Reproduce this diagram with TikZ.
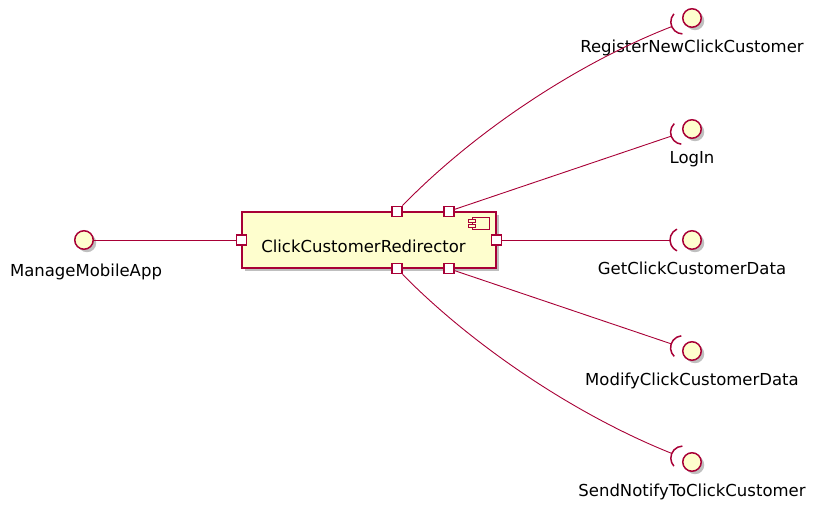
\documentclass[tikz,border=0pt]{standalone}
\usepackage{fontspec}
\setmainfont{DejaVu Sans}
\usetikzlibrary{shapes,positioning,calc,shadows}
\definecolor{umlfill}{HTML}{FEFECE}
\definecolor{umlline}{HTML}{A80036}
\begin{document}
\begin{tikzpicture}[x=1pt,y=1pt]
    % Define Styles
        \tikzstyle{component} = [
            rectangle,
            draw = umlline,
            fill = umlfill,
            line width = 1.5pt,
            minimum width = 254pt,
            minimum height = 56pt,
            inner sep = 0pt,
            drop shadow = {shadow xshift=3pt, shadow yshift=-3pt, opacity=0.25, fill=black}
        ]
        \tikzstyle{port} = [
            rectangle,
            draw = umlline,
            fill = white,
            line width = 1.2pt,
            minimum size = 10pt,
            inner sep = 0pt
        ]
        \tikzstyle{iface} = [
            circle,
            draw = umlline,
            fill = umlfill,
            line width = 1.5pt,
            minimum size = 18.5pt,
            inner sep = 0pt,
            drop shadow = {shadow xshift=3pt, shadow yshift=-3pt, opacity=0.25, fill=black}
        ]
        \tikzstyle{caption} = [
            inner sep = 0pt,
            anchor = base,
            font = \fontsize{16.5}{20}\selectfont
        ]
        \tikzstyle{conn} = [
            draw = umlline,
            line width = 0.9pt
        ]
        \tikzstyle{socket} = [
            draw = umlline,
            line width = 1.5pt
        ]
        \tikzstyle{icon} = [
            draw = umlline,
            fill = umlfill,
            line width = 1pt
        ]
    \useasboundingbox (0,0) rectangle (814,508);
    % Place nodes
        \node [component] (comp) at (369,268) {};
        \node [caption] (compname) at ([xshift=-5.5pt, yshift=-13pt]comp.center) {ClickCustomerRedirector};
        \draw [icon] ([xshift=-24pt, yshift=-6pt]comp.north east) rectangle ([xshift=-7pt, yshift=-18pt]comp.north east);
        \draw [icon] ([xshift=-28pt, yshift=-8.5pt]comp.north east) rectangle ([xshift=-21pt, yshift=-11.5pt]comp.north east);
        \draw [icon] ([xshift=-28pt, yshift=-13pt]comp.north east) rectangle ([xshift=-21pt, yshift=-16pt]comp.north east);
        \node [port] (pL) at (comp.west) {};
        \node [port] (pR) at (comp.east) {};
        \node [port] (pT1) at ([xshift=28pt]comp.north) {};
        \node [port] (pT2) at ([xshift=80pt]comp.north) {};
        \node [port] (pB1) at ([xshift=28pt]comp.south) {};
        \node [port] (pB2) at ([xshift=80pt]comp.south) {};
        \node [iface] (mma) at (84,268) {};
        \node [caption] (mmaname) at ([xshift=2pt, yshift=-37pt]mma.center) {ManageMobileApp};
        \node [iface] (reg) at (692,490) {};
        \node [caption] (regname) at ([yshift=-35pt]reg.center) {RegisterNewClickCustomer};
        \node [iface] (log) at (692,379) {};
        \node [caption] (logname) at ([yshift=-35pt]log.center) {LogIn};
        \node [iface] (gcd) at (692,268) {};
        \node [caption] (gcdname) at ([yshift=-35pt]gcd.center) {GetClickCustomerData};
        \node [iface] (mcd) at (692,157) {};
        \node [caption] (mcdname) at ([yshift=-35pt]mcd.center) {ModifyClickCustomerData};
        \node [iface] (snd) at (692,46) {};
        \node [caption] (sndname) at ([yshift=-35pt]snd.center) {SendNotifyToClickCustomer};
    % Sockets
        \coordinate (sreg) at ($(reg.center)+(203:22)$);
        \coordinate (slog) at ($(log.center)+(199:22)$);
        \coordinate (sgcd) at ($(gcd.center)+(180:22)$);
        \coordinate (smcd) at ($(mcd.center)+(161:22)$);
        \coordinate (ssnd) at ($(snd.center)+(157:22)$);
        \draw [socket] ($(reg.center)+(203:10)+(203-65:12)$) arc [start angle=203-65, end angle=203+65, radius=12];
        \draw [socket] ($(log.center)+(199:10)+(199-65:12)$) arc [start angle=199-65, end angle=199+65, radius=12];
        \draw [socket] ($(gcd.center)+(180:10)+(180-65:12)$) arc [start angle=180-65, end angle=180+65, radius=12];
        \draw [socket] ($(mcd.center)+(161:10)+(161-65:12)$) arc [start angle=161-65, end angle=161+65, radius=12];
        \draw [socket] ($(snd.center)+(157:10)+(157-65:12)$) arc [start angle=157-65, end angle=157+65, radius=12];
    % Draw edges
        \path [conn] (mma) -- (pL);
        \path [conn] (pT1) .. controls (475,377) and (578,445) .. (sreg);
        \path [conn] (pT2) -- (slog);
        \path [conn] (pR) -- (sgcd);
        \path [conn] (pB2) -- (smcd);
        \path [conn] (pB1) .. controls (475,160) and (578,92) .. (ssnd);
\end{tikzpicture}
\end{document}
